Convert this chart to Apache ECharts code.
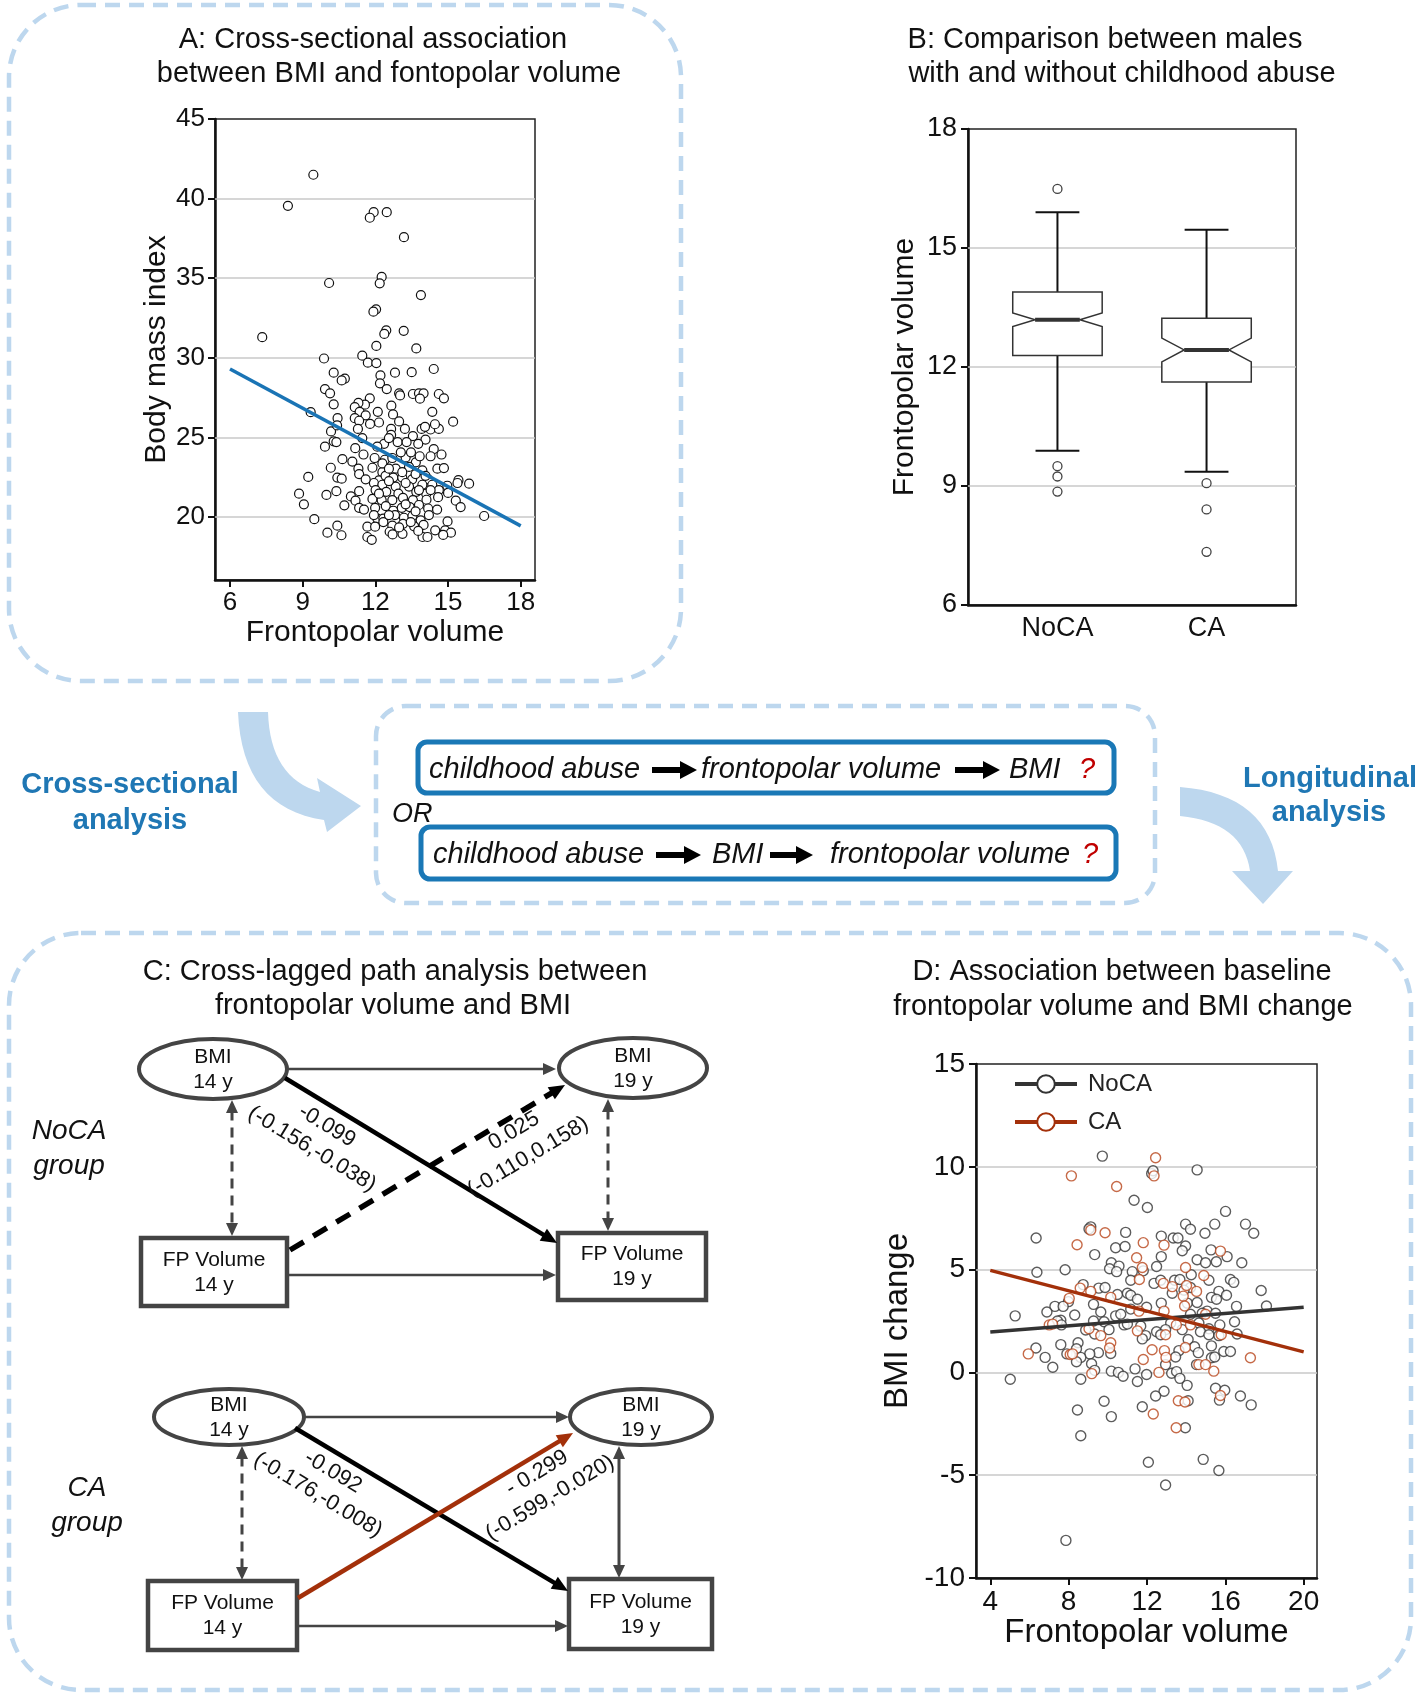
<!DOCTYPE html>
<html>
<head>
<meta charset="utf-8">
<title>Frontopolar volume, BMI and childhood abuse</title>
<script src="https://cdn.jsdelivr.net/npm/echarts@6.0.0/dist/echarts.min.js"></script>
<style>
  html, body { margin: 0; padding: 0; background: #fff; }
  #chart { width: 1418px; height: 1696px; }
</style>
</head>
<body>
<div id="chart"></div>
<script>
// ---- panel A: BMI vs frontopolar volume (cross-sectional) ----
const aVolume = [9.44, 8.39, 11.93, 11.77, 12.47, 13.18, 10.09, 12.26, 12.18, 13.88, 12.03, 11.92, 12.45, 12.37, 13.17, 7.33,
  12.04, 13.69, 9.88, 11.46, 11.69, 12.04, 10.28, 12.81, 13.5, 14.41, 10.74, 10.61, 12.21, 12.19, 9.92, 10.13, 12.47, 12.98,
  13.02, 13.55, 13.8, 13.99, 14.62, 14.83, 13.84, 11.77, 10.28, 11.57, 11.3, 11.15, 11.35, 9.33, 12.1, 12.66, 12.73, 14.35,
  10.44, 11.15, 11.6, 11.78, 12.15, 12.98, 15.21, 11.33, 10.17, 10.42, 11.28, 12.65, 13.22, 13.91, 14.28, 14.62, 14.46, 14.05,
  10.28, 10.39, 9.92, 11.46, 12.65, 13.55, 14.07, 12.92, 13.29, 12.36, 12.08, 13.77, 14.41, 11.17, 11.51, 10.64, 11.05, 11.97,
  12.39, 12.7, 13.25, 13.67, 14.28, 14.73, 10.16, 11.3, 11.33, 11.88, 12.29, 12.84, 13.39, 13.94, 14.56, 14.83, 9.23, 10.43,
  10.61, 12.15, 12.42, 12.74, 13.11, 13.52, 14.18, 15.43, 15.39, 15.87, 11.94, 12.29, 12.84, 13.39, 13.94, 14.35, 14.97, 8.85,
  9.98, 10.39, 11.33, 12.01, 12.45, 12.95, 13.69, 14.1, 14.62, 15.0, 10.99, 11.18, 11.88, 12.26, 12.7, 13.14, 13.55, 14.11,
  14.59, 15.32, 9.05, 10.72, 11.33, 11.53, 11.99, 12.43, 12.74, 13.09, 13.42, 13.8, 14.18, 14.55, 15.52, 16.49, 9.48, 12.08,
  12.33, 12.81, 13.18, 13.53, 13.87, 14.98, 12.33, 10.43, 11.67, 11.99, 12.7, 13.14, 13.6, 13.99, 14.47, 14.88, 15.12, 10.02,
  10.6, 12.59, 12.71, 13.12, 13.95, 14.15, 14.8, 11.67, 11.85, 13.77, 12.56, 13.05, 13.47, 13.83, 12.29, 12.56, 13.11, 13.66,
  14.07, 11.6, 12.56, 13.25, 13.8, 14.28, 12.15, 13.25, 13.66, 14.21, 12.56, 11.94, 12.98, 13.46];
const aBmi = [41.5, 39.55, 39.15, 38.8, 39.15, 37.58, 34.7, 35.08, 34.68, 33.94, 33.05, 32.9, 31.73, 31.5, 31.7, 31.3,
  30.75, 30.59, 29.96, 30.14, 29.7, 29.67, 29.07, 29.07, 29.1, 29.3, 28.7, 28.58, 28.9, 28.4, 28.04, 27.77, 28.04, 27.77,
  27.64, 27.73, 27.77, 27.77, 27.73, 27.46, 27.44, 27.46, 27.08, 27.06, 27.17, 26.9, 26.61, 26.59, 26.61, 27.0, 26.45, 26.61,
  26.21, 26.21, 26.39, 25.85, 25.94, 26.01, 25.99, 26.05, 25.38, 25.76, 25.54, 25.54, 25.54, 25.54, 25.5, 25.54, 25.83, 25.67,
  24.76, 24.71, 24.42, 24.96, 25.16, 25.09, 24.87, 24.71, 24.71, 24.6, 24.42, 24.6, 24.27, 24.33, 23.93, 23.64, 23.49, 23.71,
  23.6, 23.71, 23.75, 23.44, 23.82, 23.93, 23.1, 23.04, 22.7, 23.1, 22.82, 23.04, 23.15, 22.93, 23.04, 23.08, 22.52, 22.48,
  22.41, 22.3, 22.59, 22.48, 22.48, 22.37, 22.37, 22.32, 22.14, 22.1, 22.14, 22.03, 21.92, 21.92, 22.03, 22.03, 21.97, 21.47,
  21.39, 21.63, 21.63, 21.7, 21.59, 21.47, 21.59, 21.47, 21.7, 21.52, 21.3, 21.03, 21.14, 21.07, 21.07, 21.21, 21.07, 21.09,
  21.25, 21.03, 20.8, 20.74, 20.58, 20.47, 20.58, 20.69, 20.4, 20.58, 20.63, 20.76, 20.54, 20.47, 20.63, 20.07, 19.87, 19.91,
  19.91, 20.13, 19.96, 20.07, 19.8, 19.73, 19.69, 19.46, 19.4, 19.4, 19.46, 19.58, 19.42, 19.51, 19.17, 19.17, 19.02, 19.02,
  18.86, 19.08, 18.91, 18.95, 18.75, 18.75, 18.88, 18.75, 18.57, 19.13, 24.96, 24.07, 24.07, 23.82, 23.37, 23.04, 22.82, 22.7,
  22.59, 22.37, 22.26, 22.14, 21.7, 21.7, 21.47, 20.8, 20.36, 20.13, 20.13, 20.13, 19.35, 19.69];
const aFitX = [6, 18];
const aFitY = [29.3, 19.45];
const aXTicks = [6, 9, 12, 15, 18];
const aYTicks = [20, 25, 30, 35, 40, 45];
const aGrid = [20, 25, 30, 35, 40];

// ---- panel B: notched boxplots ----
const boxGroups = ['NoCA', 'CA'];
const boxWhiskerLow = [9.89, 9.36];
const boxQ1 = [12.29, 11.62];
const boxNotchLow = [13.02, 12.13];
const boxMedian = [13.19, 12.43];
const boxNotchHigh = [13.36, 12.73];
const boxQ3 = [13.89, 13.23];
const boxWhiskerHigh = [15.9, 15.46];
const outlierGroup = [1, 1, 1, 1, 2, 2, 2];
const outlierValue = [16.49, 9.5, 9.24, 8.86, 9.07, 8.41, 7.34];
const bGrid = [9, 12, 15];

// ---- panel D: baseline volume vs BMI change ----
const dNoCAVolume = [9.72, 14.56, 12.24, 12.31, 11.34, 12.02, 16.01, 13.97, 14.22, 17.03, 17.45, 15.46, 14.96, 9.13, 9.04,
  10.91, 12.73, 13.34, 13.58, 6.34, 10.4, 10.88, 13.97, 15.27, 13.8, 9.33, 12.73, 16.09, 14.56, 15.54, 16.84, 10.18, 10.57,
  10.09, 10.45, 12.49, 7.82, 6.38, 11.25, 11.81, 14.26, 14.99, 11.17, 12.36, 12.7, 13.41, 13.68, 15.16, 16.26, 16.43, 8.74,
  9.54, 9.86, 10.49, 11.0, 11.17, 14.22, 13.89, 15.67, 16.06, 17.83, 11.51, 15.29, 15.55, 13.29, 7.99, 9.27, 12.73, 14.06,
  14.56, 16.57, 18.1, 7.3, 7.72, 11.98, 11.17, 15.07, 6.89, 9.64, 8.31, 10.4, 10.66, 14.22, 14.82, 5.27, 7.6, 7.43, 9.27, 9.81,
  16.47, 15.5, 7.63, 10.83, 11.0, 11.68, 13.21, 14.65, 15.16, 15.72, 8.87, 10.06, 12.49, 12.95, 13.8, 14.73, 9.33, 11.93,
  11.76, 16.6, 15.16, 15.67, 12.7, 7.6, 8.48, 14.1, 14.43, 15.29, 6.33, 8.4, 9.52, 10.15, 15.92, 16.26, 7.91, 9.08, 13.63,
  14.62, 8.62, 6.8, 15.29, 15.46, 13.46, 8.4, 9.17, 12.95, 14.53, 7.19, 9.33, 10.18, 10.54, 10.78, 11.39, 11.98, 13.26, 13.51,
  13.68, 5.02, 8.62, 11.51, 14.05, 15.5, 15.97, 12.87, 12.44, 16.77, 14.1, 15.7, 9.81, 17.32, 11.76, 8.45, 10.18, 13.96, 8.62,
  12.07, 14.87, 15.67, 12.95, 7.86];
const dNoCAChange = [10.52, 9.85, 9.67, 9.81, 8.37, 8.02, 7.83, 7.21, 6.96, 7.21, 6.77, 7.21, 6.77, 7.08, 6.98, 6.81, 6.63,
  6.54, 6.54, 6.54, 6.06, 6.12, 6.15, 5.96, 5.92, 5.73, 5.63, 5.63, 5.48, 5.38, 5.33, 5.33, 5.17, 5.04, 4.9, 5.15, 4.99, 4.87,
  4.9, 4.94, 4.75, 5.33, 4.48, 4.33, 4.48, 4.48, 4.52, 4.48, 4.52, 4.38, 4.27, 4.1, 4.13, 3.79, 3.85, 3.75, 4.13, 4.0, 3.94,
  3.75, 3.98, 3.56, 3.65, 3.56, 3.85, 3.44, 3.31, 3.37, 3.37, 3.4, 3.21, 3.23, 3.21, 3.21, 3.17, 3.08, 2.98, 2.94, 2.94, 2.79,
  2.75, 2.83, 2.83, 2.88, 2.75, 2.54, 2.5, 2.5, 2.46, 2.46, 2.88, 2.31, 2.31, 2.35, 2.25, 2.4, 2.4, 2.12, 2.31, 2.06, 2.08,
  1.98, 2.08, 2.08, 1.98, 1.87, 1.79, 1.63, 1.87, 1.83, 1.79, 1.83, 1.35, 1.44, 1.6, 1.25, 1.29, 1.19, 1.15, 0.96, 0.92, 1.02,
  1.02, 0.9, 0.9, 1.06, 0.96, 0.73, 0.73, 0.71, 0.75, 0.75, 0.52, 0.42, 0.38, 0.38, 0.25, 0.1, 0.06, 0.0, -0.19, 0.17, -0.1,
  -0.04, 0.04, -0.29, -0.33, -0.33, -0.44, -0.63, -0.77, -0.87, -0.92, -1.15, -1.15, -1.38, -1.35, -1.4, -1.58, -1.67, -1.83,
  -2.15, -2.69, -3.08, -4.37, -4.23, -4.77, -5.48, -8.17];
const dCAVolume = [12.44, 12.36, 8.14, 10.45, 9.13, 9.86, 11.81, 12.87, 8.43, 15.75, 11.47, 11.76, 13.97, 14.9, 11.61, 12.84,
  13.29, 14.02, 14.53, 8.59, 9.13, 10.15, 13.85, 8.03, 12.87, 11.59, 13.92, 14.99, 13.5, 14.22, 7.01, 7.18, 9.04, 11.51,
  15.79, 9.64, 12.95, 10.15, 10.09, 13.96, 12.26, 12.89, 8.08, 8.2, 5.94, 12.97, 11.81, 17.28, 14.65, 14.99, 15.41, 12.61,
  9.18, 13.6, 13.94, 12.32, 13.49, 15.75];
const dCAChange = [10.44, 9.56, 9.56, 9.04, 6.92, 6.79, 6.31, 6.19, 6.21, 5.9, 5.58, 5.1, 5.1, 4.71, 4.52, 4.33, 4.17, 4.23,
  3.94, 4.1, 3.94, 3.65, 3.71, 3.6, 2.98, 2.98, 3.23, 2.83, 2.31, 2.31, 2.31, 2.35, 2.12, 2.02, 1.83, 1.79, 1.83, 1.44, 1.19,
  1.21, 1.1, 1.06, 0.87, 0.9, 0.9, 0.73, 0.63, 0.71, 0.38, 0.38, 0.06, 0.0, -0.06, -1.38, -1.44, -2.02, -2.69, -1.12];
const dFitX = [4, 20];
const dNoCAFit = [1.96, 3.17];
const dCAFit = [4.96, 1.0];
const dXTicks = [4, 8, 12, 16, 20];
const dGrid = [-5, 0, 5, 10];

// ---- panel C: cross-lagged path coefficients ----
const pathGroups = ['NoCA', 'CA'];
const bmiToFpEst = ['-0.099', '-0.092'];
const bmiToFpCI = ['(-0.156,-0.038)', '(-0.176,-0.008)'];
const fpToBmiEst = ['0.025', '- 0.299'];
const fpToBmiCI = ['(-0.110,0.158)', '(-0.599,-0.020)'];

const FONT = 'Liberation Sans, Arial, Helvetica, sans-serif';
const BLUE = '#1f77b4';
const RED = '#a3300a';
const PALE = '#bdd7ee';
const zip = (xs, ys) => xs.map((x, i) => [x, ys[i]]);

function txt(x, y, s, size, o) {
  o = o || {};
  return {
    type: 'text', x: x, y: y, rotation: o.rotation || 0, z: 10,
    style: {
      text: s, fontSize: size, fontFamily: FONT, fontStyle: o.italic ? 'italic' : 'normal',
      fontWeight: o.bold ? 'bold' : 'normal', fill: o.color || '#111',
      align: o.align || 'center', verticalAlign: 'middle'
    }
  };
}

function arrow(x1, y1, x2, y2, o) {
  const color = o.color || '#444', hl = o.head || 13, hw = o.headW || 6;
  const dx = x2 - x1, dy = y2 - y1, len = Math.hypot(dx, dy), ux = dx / len, uy = dy / len;
  const head = (tx, ty, sx, sy) => ({
    type: 'polygon', z: 10,
    shape: { points: [[tx, ty], [tx - sx * hl - sy * hw, ty - sy * hl + sx * hw], [tx - sx * hl + sy * hw, ty - sy * hl - sx * hw]] },
    style: { fill: color }
  });
  const els = [];
  let sx = x1, sy = y1;
  if (o.both) { els.push(head(x1, y1, -ux, -uy)); sx = x1 + ux * hl * 0.8; sy = y1 + uy * hl * 0.8; }
  els.push({
    type: 'line', z: 9,
    shape: { x1: sx, y1: sy, x2: x2 - ux * hl * 0.8, y2: y2 - uy * hl * 0.8 },
    style: { stroke: color, lineWidth: o.width || 2.5, lineDash: o.dash || null }
  });
  els.push(head(x2, y2, ux, uy));
  return els;
}

// quadratic curve sampled into polygon points
function quad(p0, c, p1) {
  const pts = [];
  for (let k = 0; k <= 16; k++) {
    const t = k / 16, u = 1 - t;
    pts.push([u * u * p0[0] + 2 * u * t * c[0] + t * t * p1[0], u * u * p0[1] + 2 * u * t * c[1] + t * t * p1[1]]);
  }
  return pts;
}

// diagram layout for the two groups of panel C
const cLayout = [
  {
    label: [69, 1131, 1166], bmi14: [213, 1069, 74, 30], bmi19: [633, 1068, 74, 30],
    fp14: [141, 1238, 146, 68], fp19: [558, 1233, 148, 67],
    top: [287, 1069, 556, 1069], bot: [289, 1275, 556, 1275],
    leftV: [232, 1100, 232, 1236], rightV: [608, 1099, 608, 1231], rightDashed: true,
    down: [285, 1078, 557, 1243], up: [290, 1250, 565, 1085], upColor: '#000', upDash: [16, 11],
    downLab: [[327, 1126], [312, 1149]], upLab: [[514, 1131], [528, 1157]]
  },
  {
    label: [87, 1488, 1523], bmi14: [229, 1417, 75, 28], bmi19: [641, 1417, 71, 28],
    fp14: [148, 1581, 149, 69], fp19: [569, 1579, 143, 70],
    top: [305, 1417, 569, 1417], bot: [298, 1626, 568, 1626],
    leftV: [242, 1446, 242, 1580], rightV: [619, 1446, 619, 1578], rightDashed: false,
    down: [295, 1428, 568, 1591], up: [298, 1598, 573, 1433], upColor: RED, upDash: null,
    downLab: [[333, 1472], [318, 1495]], upLab: [[537, 1473], [550, 1498]]
  }
];

function diagram(i) {
  const L = cLayout[i];
  const els = [];
  els.push(txt(L.label[0], L.label[1], pathGroups[i], 28, { italic: true }));
  els.push(txt(L.label[0], L.label[2], 'group', 28, { italic: true }));
  [['bmi14', 'BMI', '14 y'], ['bmi19', 'BMI', '19 y']].forEach(function (n) {
    const e = L[n[0]];
    els.push({ type: 'ellipse', z: 8, shape: { cx: e[0], cy: e[1], rx: e[2], ry: e[3] }, style: { fill: '#fff', stroke: '#444', lineWidth: 4 } });
    els.push(txt(e[0], e[1] - 12, n[1], 21));
    els.push(txt(e[0], e[1] + 13, n[2], 21));
  });
  [['fp14', '14 y'], ['fp19', '19 y']].forEach(function (n) {
    const r = L[n[0]];
    els.push({ type: 'rect', z: 8, shape: { x: r[0], y: r[1], width: r[2], height: r[3] }, style: { fill: '#fff', stroke: '#444', lineWidth: 4.5 } });
    els.push(txt(r[0] + r[2] / 2, r[1] + r[3] / 2 - 12, 'FP Volume', 21));
    els.push(txt(r[0] + r[2] / 2, r[1] + r[3] / 2 + 13, n[1], 21));
  });
  const a = (p, o) => arrow(p[0], p[1], p[2], p[3], o);
  els.push(...a(L.top, { width: 2.5 }));
  els.push(...a(L.bot, { width: 2.5 }));
  els.push(...a(L.leftV, { width: 3, both: true, dash: [10, 7] }));
  els.push(...a(L.rightV, { width: 3, both: true, dash: L.rightDashed ? [10, 7] : null }));
  els.push(...a(L.down, { color: '#000', width: 4.5, head: 16, headW: 7 }));
  els.push(...a(L.up, { color: L.upColor, width: L.upDash ? 5.5 : 4.5, dash: L.upDash, head: 16, headW: 7 }));
  const rotDown = -Math.atan2(L.down[3] - L.down[1], L.down[2] - L.down[0]);
  const rotUp = -Math.atan2(L.up[3] - L.up[1], L.up[2] - L.up[0]);
  els.push(txt(L.downLab[0][0], L.downLab[0][1], bmiToFpEst[i], 22, { rotation: rotDown }));
  els.push(txt(L.downLab[1][0], L.downLab[1][1], bmiToFpCI[i], 22, { rotation: rotDown }));
  els.push(txt(L.upLab[0][0], L.upLab[0][1], fpToBmiEst[i], 22, { rotation: rotUp }));
  els.push(txt(L.upLab[1][0], L.upLab[1][1], fpToBmiCI[i], 22, { rotation: rotUp }));
  return els;
}

// middle hypothesis rows
const flowRows = [
  { y: 770, box: [418, 742, 696, 51], items: [['t', 'childhood abuse', 429], ['a', 652, 697], ['t', 'frontopolar volume', 701], ['a', 955, 1000], ['t', 'BMI', 1009], ['q', '?', 1079]] },
  { y: 855, box: [421, 827, 695, 52], items: [['t', 'childhood abuse', 433], ['a', 656, 701], ['t', 'BMI', 712], ['a', 770, 813], ['t', 'frontopolar volume', 830], ['q', '?', 1082]] }
];

function flow() {
  const els = [];
  flowRows.forEach(function (row) {
    const b = row.box;
    els.push({ type: 'rect', z: 5, shape: { x: b[0], y: b[1], width: b[2], height: b[3], r: 9 }, style: { fill: '#fff', stroke: '#1a78b6', lineWidth: 5 } });
    row.items.forEach(function (it) {
      if (it[0] === 'a') {
        els.push(...arrow(it[1], row.y, it[2], row.y, { color: '#000', width: 6, head: 17, headW: 9 }));
      } else {
        els.push(txt(it[2], row.y, it[1], 29, { italic: true, align: 'left', color: it[0] === 'q' ? '#c00000' : '#111' }));
      }
    });
  });
  els.push(txt(392, 814, 'OR', 27, { italic: true, align: 'left' }));
  return els;
}

// pale curved arrows between the panels
const leftBend = [[238, 712], [268, 712]].concat(quad([268, 712], [270, 778], [320, 792]), [[317, 778], [361, 806], [327, 832]], quad([324, 820], [242, 808], [238, 712]));
const rightBend = quad([1180, 787], [1270, 794], [1278, 871]).concat([[1293, 871], [1263, 904], [1232, 871]], quad([1250, 871], [1243, 822], [1180, 816]));

const dashed = { fill: null, stroke: PALE, lineWidth: 4.5, lineDash: [15, 9] };
const graphics = [
  { type: 'rect', z: 0, shape: { x: 9, y: 5, width: 672, height: 676, r: 72 }, style: dashed },
  { type: 'rect', z: 0, shape: { x: 376, y: 706, width: 779, height: 197, r: 30 }, style: dashed },
  { type: 'rect', z: 0, shape: { x: 9, y: 933, width: 1402, height: 757, r: 72 }, style: dashed },
  { type: 'polygon', z: 1, shape: { points: leftBend }, style: { fill: PALE } },
  { type: 'polygon', z: 1, shape: { points: rightBend }, style: { fill: PALE } },
  txt(373, 40, 'A: Cross-sectional association', 29),
  txt(389, 74, 'between BMI and fontopolar volume', 29),
  txt(1105, 40, 'B: Comparison between males', 29),
  txt(1122, 74, 'with and without childhood abuse', 29),
  txt(395, 972, 'C: Cross-lagged path analysis between', 29),
  txt(393, 1006, 'frontopolar volume and BMI', 29),
  txt(1122, 972, 'D: Association between baseline', 29),
  txt(1123, 1007, 'frontopolar volume and BMI change', 29),
  txt(130, 785, 'Cross-sectional', 29, { bold: true, color: BLUE }),
  txt(130, 821, 'analysis', 29, { bold: true, color: BLUE }),
  txt(1330, 779, 'Longitudinal', 29, { bold: true, color: BLUE }),
  txt(1329, 813, 'analysis', 29, { bold: true, color: BLUE })
].concat(flow(), diagram(0), diagram(1));

function renderBox(params, api) {
  const x = api.value(0);
  const unit = api.size([1, 0])[0];
  const half = unit * 0.3, cap = unit * 0.147, ind = half / 2;
  const y = k => api.coord([x, api.value(k)])[1];
  const cx = api.coord([x, api.value(4)])[0];
  const yWl = y(1), yQ1 = y(2), yNl = y(3), yMed = y(4), yNh = y(5), yQ3 = y(6), yWh = y(7);
  const L = cx - half, R = cx + half;
  const ws = { stroke: '#111', lineWidth: 2 };
  return {
    type: 'group',
    children: [
      { type: 'line', shape: { x1: cx, y1: yQ3, x2: cx, y2: yWh }, style: ws },
      { type: 'line', shape: { x1: cx - cap, y1: yWh, x2: cx + cap, y2: yWh }, style: ws },
      { type: 'line', shape: { x1: cx, y1: yQ1, x2: cx, y2: yWl }, style: ws },
      { type: 'line', shape: { x1: cx - cap, y1: yWl, x2: cx + cap, y2: yWl }, style: ws },
      {
        type: 'polygon',
        shape: { points: [[L, yQ3], [R, yQ3], [R, yNh], [R - ind, yMed], [R, yNl], [R, yQ1], [L, yQ1], [L, yNl], [L + ind, yMed], [L, yNh]] },
        style: { fill: '#fff', stroke: '#333', lineWidth: 1.5 }
      },
      { type: 'line', shape: { x1: L + ind, y1: yMed, x2: R - ind, y2: yMed }, style: { stroke: '#333', lineWidth: 4 } }
    ]
  };
}

const gridLine = vals => ({
  silent: true, symbol: 'none', z: 1, label: { show: false },
  lineStyle: { color: '#c8c8c8', type: 'solid', width: 1.5 },
  data: vals.map(v => ({ yAxis: v }))
});

const axisBase = {
  axisLine: { onZero: false, lineStyle: { color: '#111', width: 2.5 } },
  axisTick: { length: 7, lineStyle: { color: '#111', width: 2 } },
  splitLine: { show: false },
  nameLocation: 'middle'
};
const lab = (size, extra) => Object.assign({ color: '#111', fontSize: size, fontFamily: FONT }, extra);

const chart = echarts.init(document.getElementById('chart'));
chart.setOption({
  animation: false,
  backgroundColor: '#fff',
  textStyle: { fontFamily: FONT },
  grid: [
    { left: 215, top: 119, width: 320, height: 461, show: true, borderColor: '#222', borderWidth: 1.5 },
    { left: 968, top: 129, width: 328, height: 476, show: true, borderColor: '#222', borderWidth: 1.5 },
    { left: 976, top: 1064, width: 341, height: 514, show: true, borderColor: '#222', borderWidth: 1.5 }
  ],
  xAxis: [
    Object.assign({}, axisBase, {
      gridIndex: 0, type: 'value', min: 5.38, max: 18.59,
      axisTick: { customValues: aXTicks, length: 7, lineStyle: { color: '#111', width: 2 } },
      axisLabel: lab(26, { customValues: aXTicks, margin: 10 }),
      name: 'Frontopolar volume', nameGap: 38, nameTextStyle: lab(30)
    }),
    Object.assign({}, axisBase, {
      gridIndex: 1, type: 'value', min: 0.4, max: 2.6,
      axisTick: { show: false },
      axisLabel: lab(27, { customValues: [1, 2], margin: 10, formatter: v => boxGroups[Math.round(v) - 1] })
    }),
    Object.assign({}, axisBase, {
      gridIndex: 2, type: 'value', min: 3.27, max: 20.68,
      axisTick: { customValues: dXTicks, length: 7, lineStyle: { color: '#111', width: 2 } },
      axisLabel: lab(28, { customValues: dXTicks, margin: 10 }),
      name: 'Frontopolar volume', nameGap: 38, nameTextStyle: lab(33)
    })
  ],
  yAxis: [
    Object.assign({}, axisBase, {
      gridIndex: 0, type: 'value', min: 16.05, max: 45,
      axisTick: { customValues: aYTicks, length: 7, lineStyle: { color: '#111', width: 2 } },
      axisLabel: lab(26, { customValues: aYTicks, margin: 10 }),
      name: 'Body mass index', nameGap: 43, nameTextStyle: lab(30)
    }),
    Object.assign({}, axisBase, {
      gridIndex: 1, type: 'value', min: 6, max: 18, interval: 3,
      axisLabel: lab(27, { margin: 11 }),
      name: 'Frontopolar volume', nameGap: 48, nameTextStyle: lab(30)
    }),
    Object.assign({}, axisBase, {
      gridIndex: 2, type: 'value', min: -10, max: 15, interval: 5,
      axisLabel: lab(28, { margin: 11 }),
      name: 'BMI change', nameGap: 62, nameTextStyle: lab(33)
    })
  ],
  legend: {
    data: ['NoCA', 'CA'], orient: 'vertical', left: 1008, top: 1067,
    itemWidth: 62, itemHeight: 22, itemGap: 14, selectedMode: false,
    lineStyle: { width: 4 }, itemStyle: { borderWidth: 2.5 },
    textStyle: lab(24, { color: '#222', padding: [0, 0, 0, 6] })
  },
  series: [
    {
      name: 'BMI', type: 'scatter', xAxisIndex: 0, yAxisIndex: 0, z: 2,
      data: zip(aVolume, aBmi), symbol: 'circle', symbolSize: 9,
      itemStyle: { color: '#fff', borderColor: '#111', borderWidth: 1.2, opacity: 1 },
      markLine: gridLine(aGrid)
    },
    {
      name: 'A fit', type: 'line', xAxisIndex: 0, yAxisIndex: 0, z: 3,
      data: zip(aFitX, aFitY), symbol: 'none', lineStyle: { color: '#1a74b5', width: 3.5 }
    },
    {
      name: 'Frontopolar volume', type: 'custom', xAxisIndex: 1, yAxisIndex: 1, z: 2,
      renderItem: renderBox, encode: { x: 0, y: [1, 2, 3, 4, 5, 6, 7] },
      data: boxGroups.map((g, i) => [i + 1, boxWhiskerLow[i], boxQ1[i], boxNotchLow[i], boxMedian[i], boxNotchHigh[i], boxQ3[i], boxWhiskerHigh[i]]),
      markLine: gridLine(bGrid)
    },
    {
      name: 'Outliers', type: 'scatter', xAxisIndex: 1, yAxisIndex: 1, z: 3,
      data: zip(outlierGroup, outlierValue), symbol: 'circle', symbolSize: 9,
      itemStyle: { color: '#fff', borderColor: '#111', borderWidth: 1.3 }
    },
    {
      name: 'NoCA', type: 'line', xAxisIndex: 2, yAxisIndex: 2, z: 4,
      data: zip(dFitX, dNoCAFit), symbol: 'emptyCircle', symbolSize: 16, showSymbol: false,
      itemStyle: { color: '#333' }, lineStyle: { color: '#333', width: 3.5 }
    },
    {
      name: 'CA', type: 'line', xAxisIndex: 2, yAxisIndex: 2, z: 4,
      data: zip(dFitX, dCAFit), symbol: 'emptyCircle', symbolSize: 16, showSymbol: false,
      itemStyle: { color: RED }, lineStyle: { color: RED, width: 3.5 }
    },
    {
      name: 'NoCA points', type: 'scatter', xAxisIndex: 2, yAxisIndex: 2, z: 2,
      data: zip(dNoCAVolume, dNoCAChange), symbol: 'circle', symbolSize: 10,
      itemStyle: { color: '#fff', borderColor: '#333', borderWidth: 1.4 },
      markLine: gridLine(dGrid)
    },
    {
      name: 'CA points', type: 'scatter', xAxisIndex: 2, yAxisIndex: 2, z: 3,
      data: zip(dCAVolume, dCAChange), symbol: 'circle', symbolSize: 10,
      itemStyle: { color: '#fff', borderColor: '#b8451a', borderWidth: 1.4 }
    }
  ],
  graphic: graphics
});
</script>
</body>
</html>
